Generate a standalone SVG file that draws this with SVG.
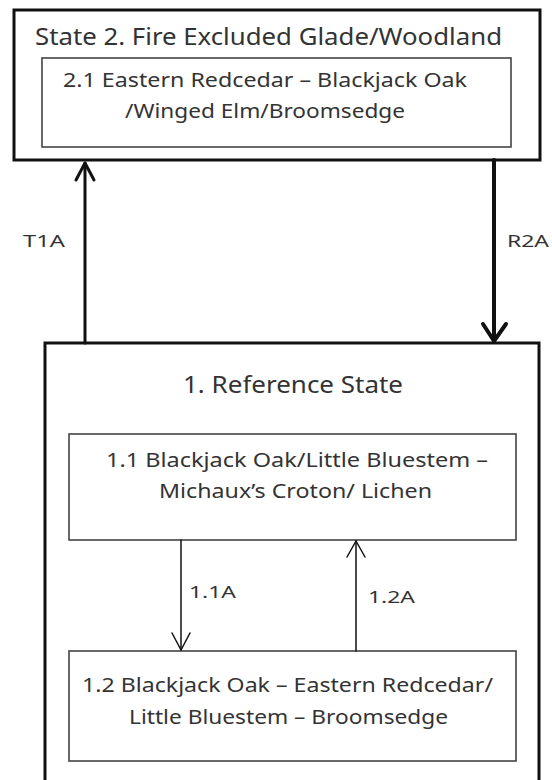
<svg xmlns="http://www.w3.org/2000/svg" width="552" height="780" viewBox="0 0 552 780">
<style>
text{font-family:"Noto Sans","Liberation Sans",sans-serif;fill:#333}
.outer{fill:#fff;stroke:#111;stroke-width:3}
.inner{fill:#fff;stroke:#444;stroke-width:1.6}
.t1{font-size:23px}
.t2{font-size:20px}
.lb{font-size:17px}
.c{fill:none;stroke:#111;stroke-linecap:round;stroke-linejoin:round}
</style>
<rect width="552" height="780" fill="#fff"/>
<g id="state2">
<rect class="outer" x="14" y="10" width="526" height="150"/>
<text class="t1" x="35" y="45" textLength="467" lengthAdjust="spacingAndGlyphs">State 2. Fire Excluded Glade/Woodland</text>
</g>
<g id="c21">
<rect class="inner" x="42" y="58" width="469" height="89"/>
<text class="t2" x="63" y="87" textLength="404" lengthAdjust="spacingAndGlyphs">2.1 Eastern Redcedar – Blackjack Oak</text>
<text class="t2" x="125" y="118" textLength="280" lengthAdjust="spacingAndGlyphs">/Winged Elm/Broomsedge</text>
</g>
<g id="state1">
<rect class="outer" x="45" y="343" width="494" height="450"/>
<text class="t1" x="183" y="393" textLength="220" lengthAdjust="spacingAndGlyphs">1. Reference State</text>
</g>
<g id="c11">
<rect class="inner" x="69" y="434" width="447" height="106"/>
<text class="t2" x="106" y="467" textLength="382" lengthAdjust="spacingAndGlyphs">1.1  Blackjack Oak/Little Bluestem –</text>
<text class="t2" x="159" y="498" textLength="273" lengthAdjust="spacingAndGlyphs">Michaux’s Croton/ Lichen</text>
</g>
<g id="c12">
<rect class="inner" x="69" y="651" width="447" height="110"/>
<text class="t2" x="82" y="692" textLength="411" lengthAdjust="spacingAndGlyphs">1.2  Blackjack Oak – Eastern Redcedar/</text>
<text class="t2" x="129" y="724" textLength="319" lengthAdjust="spacingAndGlyphs">Little Bluestem – Broomsedge</text>
</g>
<g id="connectors">
<line class="c" x1="85" y1="343" x2="85" y2="163" stroke-width="3"/>
<polyline class="c" points="76,180 85,163 94,180" stroke-width="3"/>
<text class="lb" x="23" y="247" textLength="42" lengthAdjust="spacingAndGlyphs">T1A</text>
<line class="c" x1="494" y1="160" x2="494" y2="341" stroke-width="4"/>
<polyline class="c" points="483,324 494,341 506,324" stroke-width="4"/>
<text class="lb" x="507" y="247" textLength="42" lengthAdjust="spacingAndGlyphs">R2A</text>
<line class="c" x1="181" y1="540" x2="181" y2="650" stroke-width="1.5" stroke="#333"/>
<polyline class="c" points="172,633 181,650 190,633" stroke-width="1.5" stroke="#333"/>
<text class="lb" x="189" y="598" textLength="47" lengthAdjust="spacingAndGlyphs">1.1A</text>
<line class="c" x1="356" y1="651" x2="356" y2="541" stroke-width="1.5" stroke="#333"/>
<polyline class="c" points="347,557 356,541 365,557" stroke-width="1.5" stroke="#333"/>
<text class="lb" x="368" y="603" textLength="47" lengthAdjust="spacingAndGlyphs">1.2A</text>
</g>
</svg>
